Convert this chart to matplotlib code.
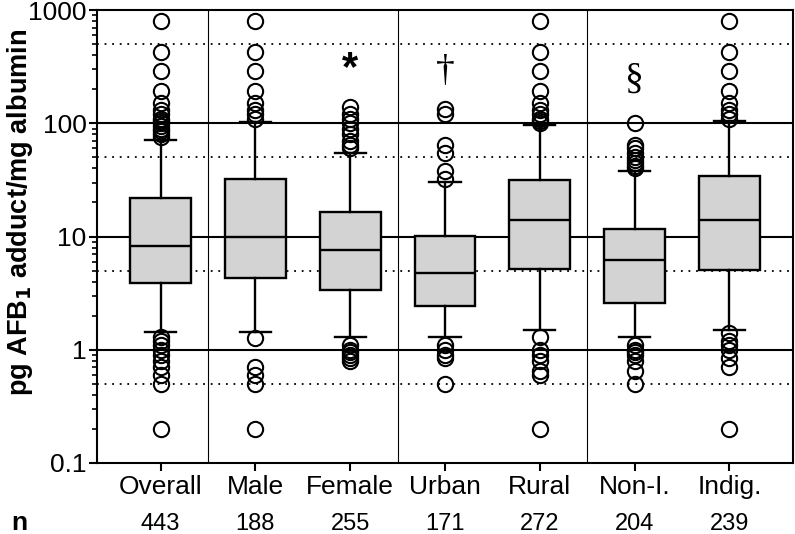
import numpy as np
import matplotlib
matplotlib.use("Agg")
import matplotlib.pyplot as plt
from matplotlib.ticker import LogLocator, FuncFormatter, NullFormatter
import matplotlib.transforms as mtransforms

plt.rcParams['font.family'] = ['Liberation Sans', 'DejaVu Sans']

# group data
groups = ["Overall", "Male", "Female", "Urban", "Rural", "Non-I.", "Indig."]
n_counts = [443, 188, 255, 171, 272, 204, 239]
q1 = [3.9, 4.3, 3.35, 2.44, 5.15, 2.57, 5.05]
med = [8.2, 10.0, 7.6, 4.8, 14.0, 6.2, 14.0]
q3 = [21.8, 32.0, 16.5, 10.1, 31.5, 11.6, 34.0]
whislo = [1.43, 1.45, 1.3, 1.3, 1.49, 1.29, 1.49]
whishi = [72, 103, 54.5, 30.4, 96, 38, 105]
fliers = [
    [800, 430, 290, 195, 150, 130, 120, 110, 105, 100, 95, 90, 85, 80, 75,
     1.3, 1.2, 1.1, 1.0, 0.9, 0.8, 0.7, 0.6, 0.5, 0.2],
    [800, 430, 290, 195, 150, 130, 120, 110,
     1.27, 0.7, 0.6, 0.5, 0.2],
    [140, 120, 110, 100, 90, 80, 70, 65, 60,
     1.1, 1.0, 0.95, 0.9, 0.85, 0.8],
    [135, 120, 65, 55, 38, 32,
     1.1, 1.0, 0.9, 0.85, 0.5],
    [800, 430, 290, 195, 150, 130, 120, 110, 105, 100,
     1.3, 1.0, 0.9, 0.8, 0.65, 0.6, 0.2],
    [100, 65, 60, 55, 50, 47, 45, 42, 40,
     1.1, 1.0, 0.95, 0.9, 0.8, 0.65, 0.5],
    [800, 430, 290, 195, 150, 130, 120, 110,
     1.4, 1.2, 1.1, 1.0, 0.85, 0.7, 0.2],
]
marks = {2: ("*", 300), 3: ("\u2020", 285), 5: ("\u00a7", 245)}

stats = []
for i in range(len(groups)):
    stats.append(dict(med=med[i], q1=q1[i], q3=q3[i], whislo=whislo[i],
                      whishi=whishi[i], fliers=fliers[i], label=groups[i]))

fig = plt.figure(figsize=(7.95, 5.34), dpi=100)
ax = fig.add_axes([0.122, 0.133, 0.8755, 0.848])
ax.set_yscale("log")
ax.set_ylim(0.1, 1000)
ax.set_xlim(-0.67, 6.67)

# grid lines
for v in [1, 10, 100]:
    ax.axhline(v, color="black", lw=1.5, zorder=1)
for v in [0.5, 5, 50, 500]:
    ax.axhline(v, color="black", lw=1.3, ls=(0, (1, 3.2)), zorder=1)
for xv in [0.5, 2.5, 4.5]:
    ax.axvline(xv, color="black", lw=0.8, zorder=1)

lw = 1.7
ax.bxp(stats, positions=range(len(groups)), widths=0.64, patch_artist=True,
       showfliers=True,
       boxprops=dict(facecolor="#d3d3d3", edgecolor="black", linewidth=lw),
       medianprops=dict(color="black", linewidth=lw),
       whiskerprops=dict(color="black", linewidth=lw),
       capprops=dict(color="black", linewidth=lw),
       capwidths=0.33,
       flierprops=dict(marker="o", markersize=11, markerfacecolor="none",
                       markeredgecolor="black", markeredgewidth=1.5),
       zorder=3)

for k, (sym, yv) in marks.items():
    if sym == "*":
        ax.text(k, yv, sym, ha="center", va="center", fontsize=30,
                fontweight="bold")
    else:
        ax.text(k, yv, sym, ha="center", va="center", fontsize=27,
                family="Liberation Serif")

for s in ax.spines.values():
    s.set_linewidth(1.5)

ax.yaxis.set_major_locator(LogLocator(base=10, numticks=10))
ax.yaxis.set_major_formatter(FuncFormatter(lambda v, p: "%g" % v))
ax.yaxis.set_minor_locator(LogLocator(base=10, subs=np.arange(2, 10), numticks=10))
ax.yaxis.set_minor_formatter(NullFormatter())
ax.tick_params(axis="y", which="major", length=6, width=1.5, labelsize=19,
               direction="out", pad=1.5)
ax.tick_params(axis="y", which="minor", length=3.5, width=1.2, direction="out")
ax.tick_params(axis="x", length=6, width=1.5, labelsize=19, direction="out",
               pad=3)
ax.set_xticks(range(len(groups)))
ax.set_xticklabels(groups)

# y label sits a bit above the axes centre in the original
fig.text(20 / 795, 1 - 212 / 534, "pg AFB$_\\mathbf{1}$ adduct/mg albumin",
         rotation=90, ha="center", va="center", fontsize=19.5,
         fontweight="bold")

trans = mtransforms.blended_transform_factory(ax.transData, fig.transFigure)
for i, n in enumerate(n_counts):
    ax.text(i, (534 - 524) / 534, str(n), transform=trans, ha="center",
            va="center", fontsize=17)
fig.text(19 / 795, (534 - 523) / 534, "n", ha="center", va="center",
         fontsize=19, fontweight="bold")

fig.savefig("out.png", dpi=100)
